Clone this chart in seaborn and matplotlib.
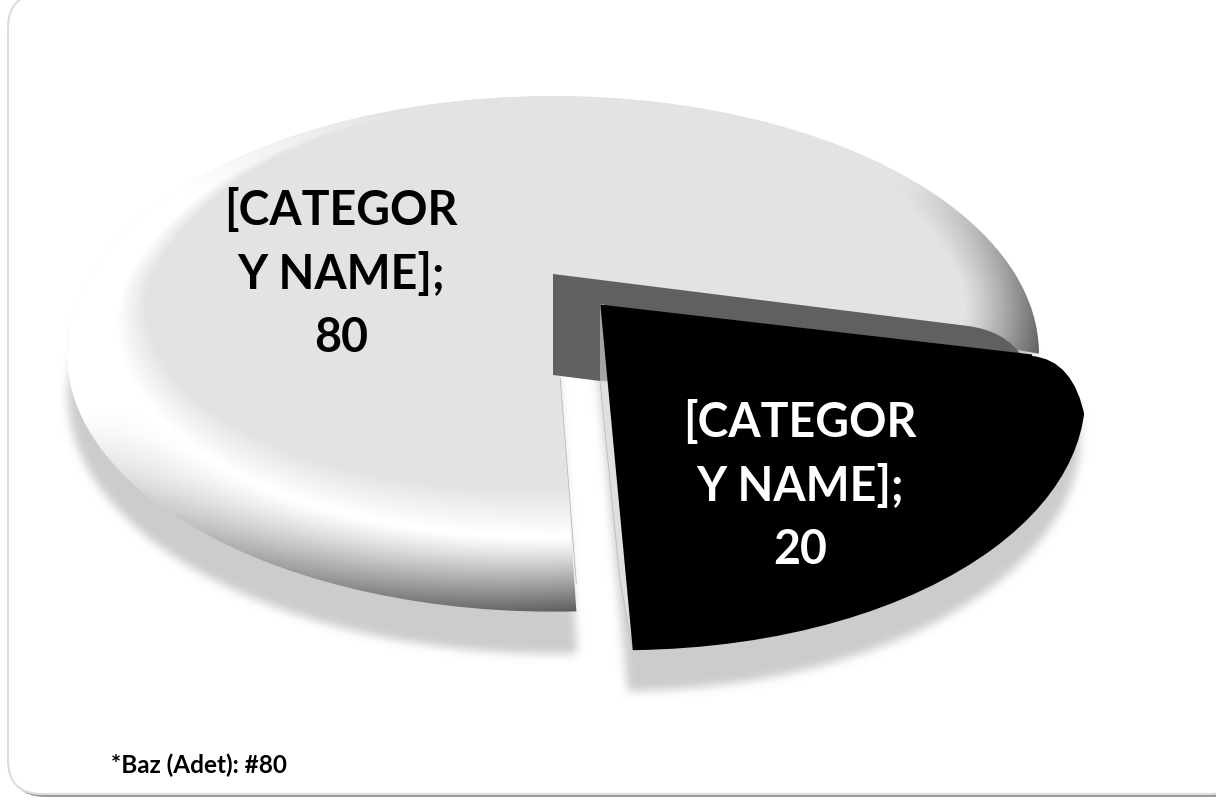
"""3D-look exploded pie chart with soft shadows, drawn in pixel coordinates."""
import numpy as np
import matplotlib
matplotlib.use('Agg')
import matplotlib.pyplot as plt
import seaborn as sns
from matplotlib.patches import FancyBboxPatch, PathPatch, Polygon
from matplotlib.path import Path
from matplotlib.transforms import Transform

# Chart data
categories = ['[CATEGOR\nY NAME]', '[CATEGOR\nY NAME]']
values = [80, 20]
explode = [0, 0.16]
slice_colors = ['#e4e4e4', '#000000']
label_colors = ['#000000', '#ffffff']
footnote = '*Baz (Adet): #80'

W, H = 1216, 800
# perspective of the pie disc on the page
CX, CY, RX, RY, K = 553, 274, 462, 233, 0.31

sns.set_theme(style='white')
plt.rcParams['font.family'] = ['Lato', 'DejaVu Sans']


class Perspective(Transform):
    """Map the unit pie disc to page pixels, front edge closer to the viewer"""
    input_dims = 2
    output_dims = 2
    is_separable = False

    def transform_non_affine(self, values):
        values = np.asarray(values, dtype=float)
        w = 1 + K * values[:, 1]
        return np.column_stack([CX + RX * values[:, 0] / w, CY - RY * values[:, 1] / w])


def box_blur(a, size, passes=3):
    """Cheap gaussian-like blur"""
    kernel = np.ones(size) / size
    for _ in range(passes):
        a = np.apply_along_axis(lambda m: np.convolve(m, kernel, mode='same'), 0, a)
        a = np.apply_along_axis(lambda m: np.convolve(m, kernel, mode='same'), 1, a)
    return a


def wedge_mask(wedge, dx, dy):
    """Rasterize a wedge into a page mask, shifted by dx, dy pixels"""
    path = wedge.get_transform().transform_path(wedge.get_path())
    yy, xx = np.mgrid[0:H, 0:W]
    pts = np.column_stack([(xx - dx + 0.5).ravel(), (H - (yy - dy + 0.5)).ravel()])
    return path.contains_points(pts).reshape(H, W).astype(float)


def rim_shading():
    """Grey levels of the bevelled rim for every page pixel"""
    yy, xx = np.mgrid[0:H, 0:W]
    d = (CY - yy) / RY
    y = d / (1 - K * d)
    x = (xx - CX) * (1 + K * y) / RX
    r = np.hypot(x, y)
    phi = np.arctan2(y, x)
    low = np.clip(-np.sin(phi), 0, 1)
    inner = 1 - (0.025 + 0.105 * np.abs(np.cos(phi)) ** 3 + 0.25 * low ** 1.5)
    u = np.clip((r - inner) / (1 - inner), 0, 1)
    # white highlight on the lit side, dark edge towards the lower right
    lit = np.clip(1.5 * np.cos(phi + np.radians(140)) + 0.3, 0, 1)
    dark = np.clip(np.cos(phi + np.radians(60)), 0, 1) ** 1.2 * 0.75
    grey = 0.894 + 0.106 * lit * np.clip(u / 0.4, 0, 1)
    start = 0.4 * lit
    fall = np.clip((u - start) / (1 - start), 0, 1)
    return grey - dark * fall ** 1.2


fig = plt.figure(figsize=(W / 100, H / 100), dpi=100)
ax = fig.add_axes([0, 0, 1, 1])

# Pie slices
wedges, _ = ax.pie(values, explode=explode, colors=sns.color_palette(slice_colors),
                   startangle=-16, counterclock=True)
ax.set_aspect('auto')
ax.set_xlim(0, W)
ax.set_ylim(H, 0)
ax.axis('off')
fig.canvas.draw()

big, small = wedges
big.set_theta1(big.theta1 - 2)
small.set_radius(0.95)
small.set_theta1(-89)
small.set_theta2(-12.5)
persp = Perspective()
for wedge in wedges:
    wedge.set_transform(persp + ax.transData)
    wedge.set_linewidth(0)

# Card behind the chart
ax.add_patch(FancyBboxPatch((11, -3), W + 20, H, boxstyle='round,pad=0,rounding_size=34',
                            fc='#9a9a9a', ec='none', zorder=0.1))
ax.add_patch(FancyBboxPatch((8, -6), W + 20, H, boxstyle='round,pad=0,rounding_size=34',
                            fc='#ffffff', ec='#dcdcdc', lw=1.5, zorder=0.2))

# Soft shadows of both slices
for wedge, shift in zip(wedges, [(1, 42), (-5, 41)]):
    mask = box_blur(wedge_mask(wedge, *shift), 9)
    rgba = np.zeros((H, W, 4))
    rgba[..., :3] = 0.8
    rgba[..., 3] = mask
    ax.imshow(rgba, extent=(0, W, H, 0), aspect='auto', zorder=0.5, interpolation='bilinear')

# Bevel shading on the big slice
big.set_zorder(1)
im = ax.imshow(rim_shading(), extent=(0, W, H, 0), aspect='auto', cmap='gray', vmin=0, vmax=1,
               zorder=1.5, interpolation='bilinear')
im.set_clip_path(big)

# Cut wall of the big slice, seen behind the exploded slice
apex = persp.transform(np.array([[0.0, 0.0]]))[0]
wall = Path([apex, (968, 326), (1005, 331), (1022, 356), (1022, 372), (700, 372), (600, 381), apex + (0, 101), apex],
            [Path.MOVETO, Path.LINETO, Path.CURVE3, Path.CURVE3, Path.LINETO, Path.LINETO, Path.LINETO, Path.LINETO,
             Path.CLOSEPOLY])
ax.add_patch(PathPatch(wall, fc='#606060', ec='none', zorder=2))
ax.add_patch(Polygon([(600, 304), (600, 381), (612, 382), (604, 304)], closed=True, fc='#a4a4a4', ec='none', zorder=2.2))

# Thin edge along the cut face of the big slice
angle = np.radians(big.theta2)
bottom = persp.transform(np.array([[np.cos(angle), np.sin(angle)]]))[0]
start = apex + (bottom - apex) * 0.31
ax.plot([start[0], bottom[0]], [start[1], bottom[1] - 28], color='#b8b8b8', lw=0.6, zorder=1.8)

# Pale sliver on the left side of the exploded slice
ax.add_patch(Polygon([(600, 381), (620, 580), (633, 650), (645, 600), (625, 381)], closed=True,
                     fc='#e0e0e0', ec='#bdbdbd', lw=0.6, zorder=2.5))

# Exploded slice, with its outer corner rounded off
small.set_zorder(3)
corner = Path([(560, 200), (1032, 200), (1032, 356), (1074, 360), (1085, 418), (1091, 800), (560, 800), (560, 200)],
              [Path.MOVETO, Path.LINETO, Path.LINETO, Path.CURVE3, Path.CURVE3, Path.LINETO, Path.LINETO,
               Path.CLOSEPOLY])
clip_patch = PathPatch(corner, fc='none', ec='none')
ax.add_patch(clip_patch)
small.set_clip_on(True)
small.set_clip_path(clip_patch)

# Data labels
label_pos = [(341, 274), (800, 486)]
for cat, val, pos, col in zip(categories, values, label_pos, label_colors):
    ax.text(pos[0], pos[1], f'{cat};\n{val}', color=col, fontsize=33.5, fontweight='bold',
            ha='center', va='center', linespacing=1.52, zorder=5)

ax.text(111, 765, footnote, fontsize=17.5, fontweight='bold', color='#000000',
        ha='left', va='center', zorder=5)

plt.savefig('out.png', dpi=100)
plt.close()
